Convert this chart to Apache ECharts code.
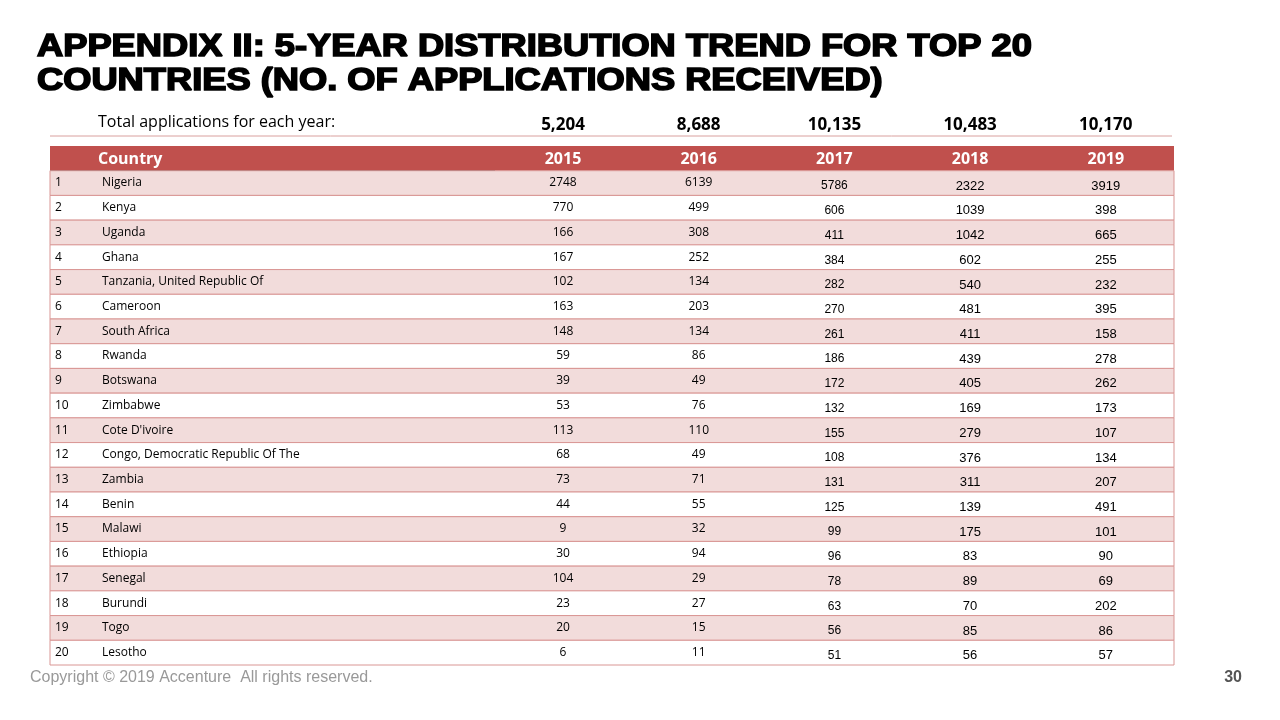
<!DOCTYPE html>
<html><head><meta charset="utf-8">
<script src="https://cdn.jsdelivr.net/npm/echarts@6/dist/echarts.min.js"></script>
<style>html,body{margin:0;padding:0;background:#fff}#main{width:1280px;height:720px}</style>
</head><body><div id="main"></div>
<script>
var years = ['2015', '2016', '2017', '2018', '2019'];
var totals = ['5,204', '8,688', '10,135', '10,483', '10,170'];
var countries = ['Nigeria', 'Kenya', 'Uganda', 'Ghana', 'Tanzania, United Republic Of', 'Cameroon',
  'South Africa', 'Rwanda', 'Botswana', 'Zimbabwe', "Cote D'ivoire", 'Congo, Democratic Republic Of The',
  'Zambia', 'Benin', 'Malawi', 'Ethiopia', 'Senegal', 'Burundi', 'Togo', 'Lesotho'];
var v2015 = [2748, 770, 166, 167, 102, 163, 148, 59, 39, 53, 113, 68, 73, 44, 9, 30, 104, 23, 20, 6];
var v2016 = [6139, 499, 308, 252, 134, 203, 134, 86, 49, 76, 110, 49, 71, 55, 32, 94, 29, 27, 15, 11];
var v2017 = [5786, 606, 411, 384, 282, 270, 261, 186, 172, 132, 155, 108, 131, 125, 99, 96, 78, 63, 56, 51];
var v2018 = [2322, 1039, 1042, 602, 540, 481, 411, 439, 405, 169, 279, 376, 311, 139, 175, 83, 89, 70, 85, 56];
var v2019 = [3919, 398, 665, 255, 232, 395, 158, 278, 262, 173, 107, 134, 207, 491, 101, 90, 69, 202, 86, 57];

var cols = [v2015, v2016, v2017, v2018, v2019];
var rowNames = ['Country'].concat(countries);
var data = rowNames.map(function (n, i) { return [0, i]; });
var font = '"Open Sans", "Noto Sans", sans-serif';

var chart = echarts.init(document.getElementById('main'));
chart.setOption({
  animation: false,
  grid: {left: 50, right: 106, top: 146, bottom: 55},
  xAxis: {type: 'value', min: 0, max: 1, show: false},
  yAxis: {type: 'category', data: rowNames, inverse: true, show: false},
  graphic: [
    {type: 'text', x: 37, y: 30, scaleX: 1.17, style: {text: 'APPENDIX II: 5-YEAR DISTRIBUTION TREND FOR TOP 20\nCOUNTRIES (NO. OF APPLICATIONS RECEIVED)',
      font: 'bold 31px "Liberation Sans", Arial, sans-serif', fill: '#000', stroke: '#000', lineWidth: 1.6, lineHeight: 34}},
    {type: 'text', left: 98, top: 114, style: {text: 'Total applications for each year:', font: '16px ' + font, fill: '#000'}},
    {type: 'line', shape: {x1: 50, y1: 136, x2: 1172, y2: 136}, style: {stroke: '#D9A09E', lineWidth: 1}},
    {type: 'text', left: 30, top: 670, style: {text: 'Copyright \u00a9 2019 Accenture  All rights reserved.', font: '16px "Liberation Sans", Arial, sans-serif', fill: '#999'}},
    {type: 'text', right: 38, top: 670, style: {text: '30', font: 'bold 16px "Liberation Sans", Arial, sans-serif', fill: '#555'}}
  ].concat(totals.map(function (t, i) {
    return {type: 'text', x: 563 + i * 135.7, y: 125, style: {text: t, font: 'bold 17px ' + font, fill: '#000', align: 'center', verticalAlign: 'middle'}};
  })),
  series: [{
    type: 'custom',
    data: data,
    renderItem: function (params, api) {
      var idx = api.value(1);
      var cs = params.coordSys;
      var p = api.coord([0, idx]);
      var h = api.size([0, 1])[1];
      var top = p[1] - h / 2;
      var W = cs.width, L = cs.x;
      var colC = function (k) { return L + 445 + 68 + k * 135.7; };
      var ch = [];
      if (idx === 0) {
        ch.push({type: 'rect', shape: {x: L, y: top, width: W, height: h}, style: {fill: '#C0504D'}});
        ch.push({type: 'text', style: {x: 48 + L, y: p[1] + 1, text: 'Country', font: 'bold 16px ' + font, fill: '#fff', verticalAlign: 'middle'}});
        years.forEach(function (y, k) {
          ch.push({type: 'text', style: {x: colC(k), y: p[1] + 1, text: y, font: 'bold 16px ' + font, fill: '#fff', align: 'center', verticalAlign: 'middle'}});
        });
        ch.push({type: 'line', shape: {x1: L, y1: top + h, x2: L + 445, y2: top + h}, style: {stroke: '#000', lineWidth: 1}});
      } else {
        var r = idx - 1;
        ch.push({type: 'rect', shape: {x: L, y: top, width: W, height: h}, style: {fill: r % 2 === 0 ? '#F2DCDB' : '#fff', stroke: '#D99694', lineWidth: 1}});
        ch.push({type: 'text', style: {x: L + 5, y: p[1], text: String(idx), font: '12px ' + font, fill: '#000', verticalAlign: 'middle'}});
        ch.push({type: 'text', style: {x: L + 52, y: p[1], text: countries[r], font: '12px ' + font, fill: '#000', verticalAlign: 'middle'}});
        cols.forEach(function (c, k) {
          var f = k < 2 ? '12px ' + font : (k < 3 ? '12px "Liberation Sans", Arial, sans-serif' : '13px "Liberation Sans", Arial, sans-serif');
          ch.push({type: 'text', style: {x: colC(k), y: p[1] + (k < 2 ? 0 : 3), text: String(c[r]), font: f, fill: '#000', align: 'center', verticalAlign: 'middle'}});
        });
      }
      return {type: 'group', children: ch};
    }
  }]
});
</script></body></html>
